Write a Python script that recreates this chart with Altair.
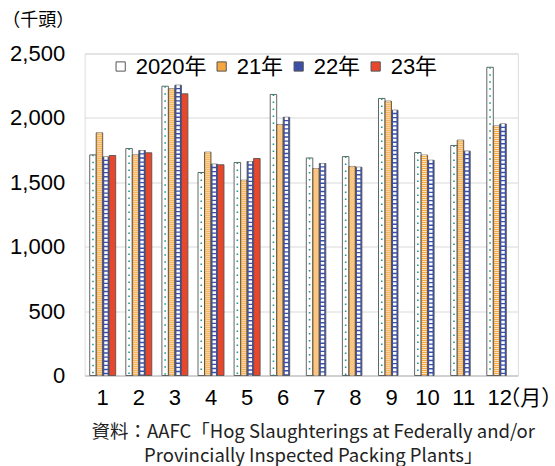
import altair as alt
import pandas as pd

# Monthly hog slaughterings (thousand head), Canada
months = list(range(1, 13))
series = ["2020年", "21年", "22年", "23年"]
v2020 = [1713, 1762, 2246, 1576, 1654, 2182, 1689, 1700, 2151, 1731, 1786, 2393]
v2021 = [1884, 1713, 2226, 1734, 1516, 1949, 1607, 1623, 2130, 1711, 1827, 1937]
v2022 = [1697, 1747, 2254, 1641, 1661, 2005, 1646, 1617, 2060, 1671, 1742, 1953]
v2023 = [1708, 1729, 2187, 1636, 1685]

y_ticks = [0, 500, 1000, 1500, 2000, 2500]
source_lines = [
    "資料：AAFC「Hog Slaughterings at Federally and/or",
    "Provincially Inspected Packing Plants」",
]

rows = []
for name, vals in zip(series, [v2020, v2021, v2022, v2023]):
    for m, v in zip(months, vals):
        rows.append({"month": m, "series": name, "value": v})
df = pd.DataFrame(rows)

NUM_FONT = "Liberation Sans, Noto Sans CJK JP"
JP_FONT = "Noto Sans CJK JP"

base = alt.Chart(df).encode(
    x=alt.X(
        "month:O",
        scale=alt.Scale(paddingInner=0.28, paddingOuter=0.14),
        axis=alt.Axis(
            labelAngle=0, domainColor="#bfbfbf", domainWidth=1,
            ticks=False, tickSize=0, grid=False,
            labelFontSize=22, labelFont=NUM_FONT, labelColor="#000",
            labelPadding=22, labelBaseline="middle",
            title="（月）", titleX=414, titleY=23, titleAlign="left",
            titleBaseline="middle", titleFontSize=21, titleFont=JP_FONT,
            titleFontWeight="normal", titleColor="#000",
        ),
    ),
    xOffset=alt.XOffset(
        "series:N", scale=alt.Scale(domain=series, paddingInner=0, paddingOuter=0)
    ),
    y=alt.Y(
        "value:Q",
        scale=alt.Scale(domain=[0, 2500], nice=False),
        axis=alt.Axis(
            values=y_ticks, format=",.0f", grid=True, gridColor="#d9d9d9",
            gridWidth=1, domain=False, ticks=False, tickSize=0,
            labelFontSize=22, labelFont=NUM_FONT, labelColor="#000",
            labelPadding=20,
            title="（千頭）", titleX=-83, titleY=-33, titleAngle=0,
            titleAlign="left", titleBaseline="middle", titleFontSize=18,
            titleFont=JP_FONT, titleFontWeight="normal", titleColor="#000",
        ),
    ),
)

bars = base.mark_bar(stroke="#555555", strokeWidth=0.9).encode(
    color=alt.Color(
        "series:N",
        scale=alt.Scale(domain=series, range=["#ffffff", "#F5A742", "#3B4FA8", "#E8472B"]),
        legend=alt.Legend(
            title=None, orient="none", legendX=25, legendY=2,
            direction="horizontal", symbolType="square", symbolSize=85,
            symbolStrokeColor="#555555", symbolStrokeWidth=1,
            labelFontSize=22, labelFont=NUM_FONT, labelColor="#000",
            labelOffset=4, columnPadding=4,
        ),
    )
)

# 2020: dotted column on white
dots = base.mark_rule(color="#1F9A8E", strokeWidth=1.6, strokeDash=[1.5, 5.5]).encode(
    y2=alt.datum(0)
).transform_filter(alt.datum.series == "2020年")

# 21: light hatching over orange
hatch = base.mark_rule(color="#FDE6C4", strokeWidth=4.4, strokeDash=[1, 1]).encode(
    y2=alt.datum(0)
).transform_filter(alt.datum.series == "21年")

# 22: white cells inside blue ladder
ladder = base.mark_rule(color="#ffffff", strokeWidth=3.4, strokeDash=[2.7, 1.4]).encode(
    y2=alt.datum(0)
).transform_filter(alt.datum.series == "22年")

chart = alt.layer(bars, dots, hatch, ladder).properties(
    width=433.2,
    height=322,
    autosize="none",
    padding={"left": 84.65, "top": 53.5, "right": 37.15, "bottom": 90.5},
    title=alt.TitleParams(
        text=source_lines, orient="bottom", anchor="middle", fontSize=18.5,
        font=JP_FONT, fontWeight="normal", color="#222222", lineHeight=24,
        offset=14, dx=12, baseline="top",
    ),
).configure_view(stroke=None).configure(background="white")

chart.save("out.html", embed_options={"renderer": "svg", "actions": False})
